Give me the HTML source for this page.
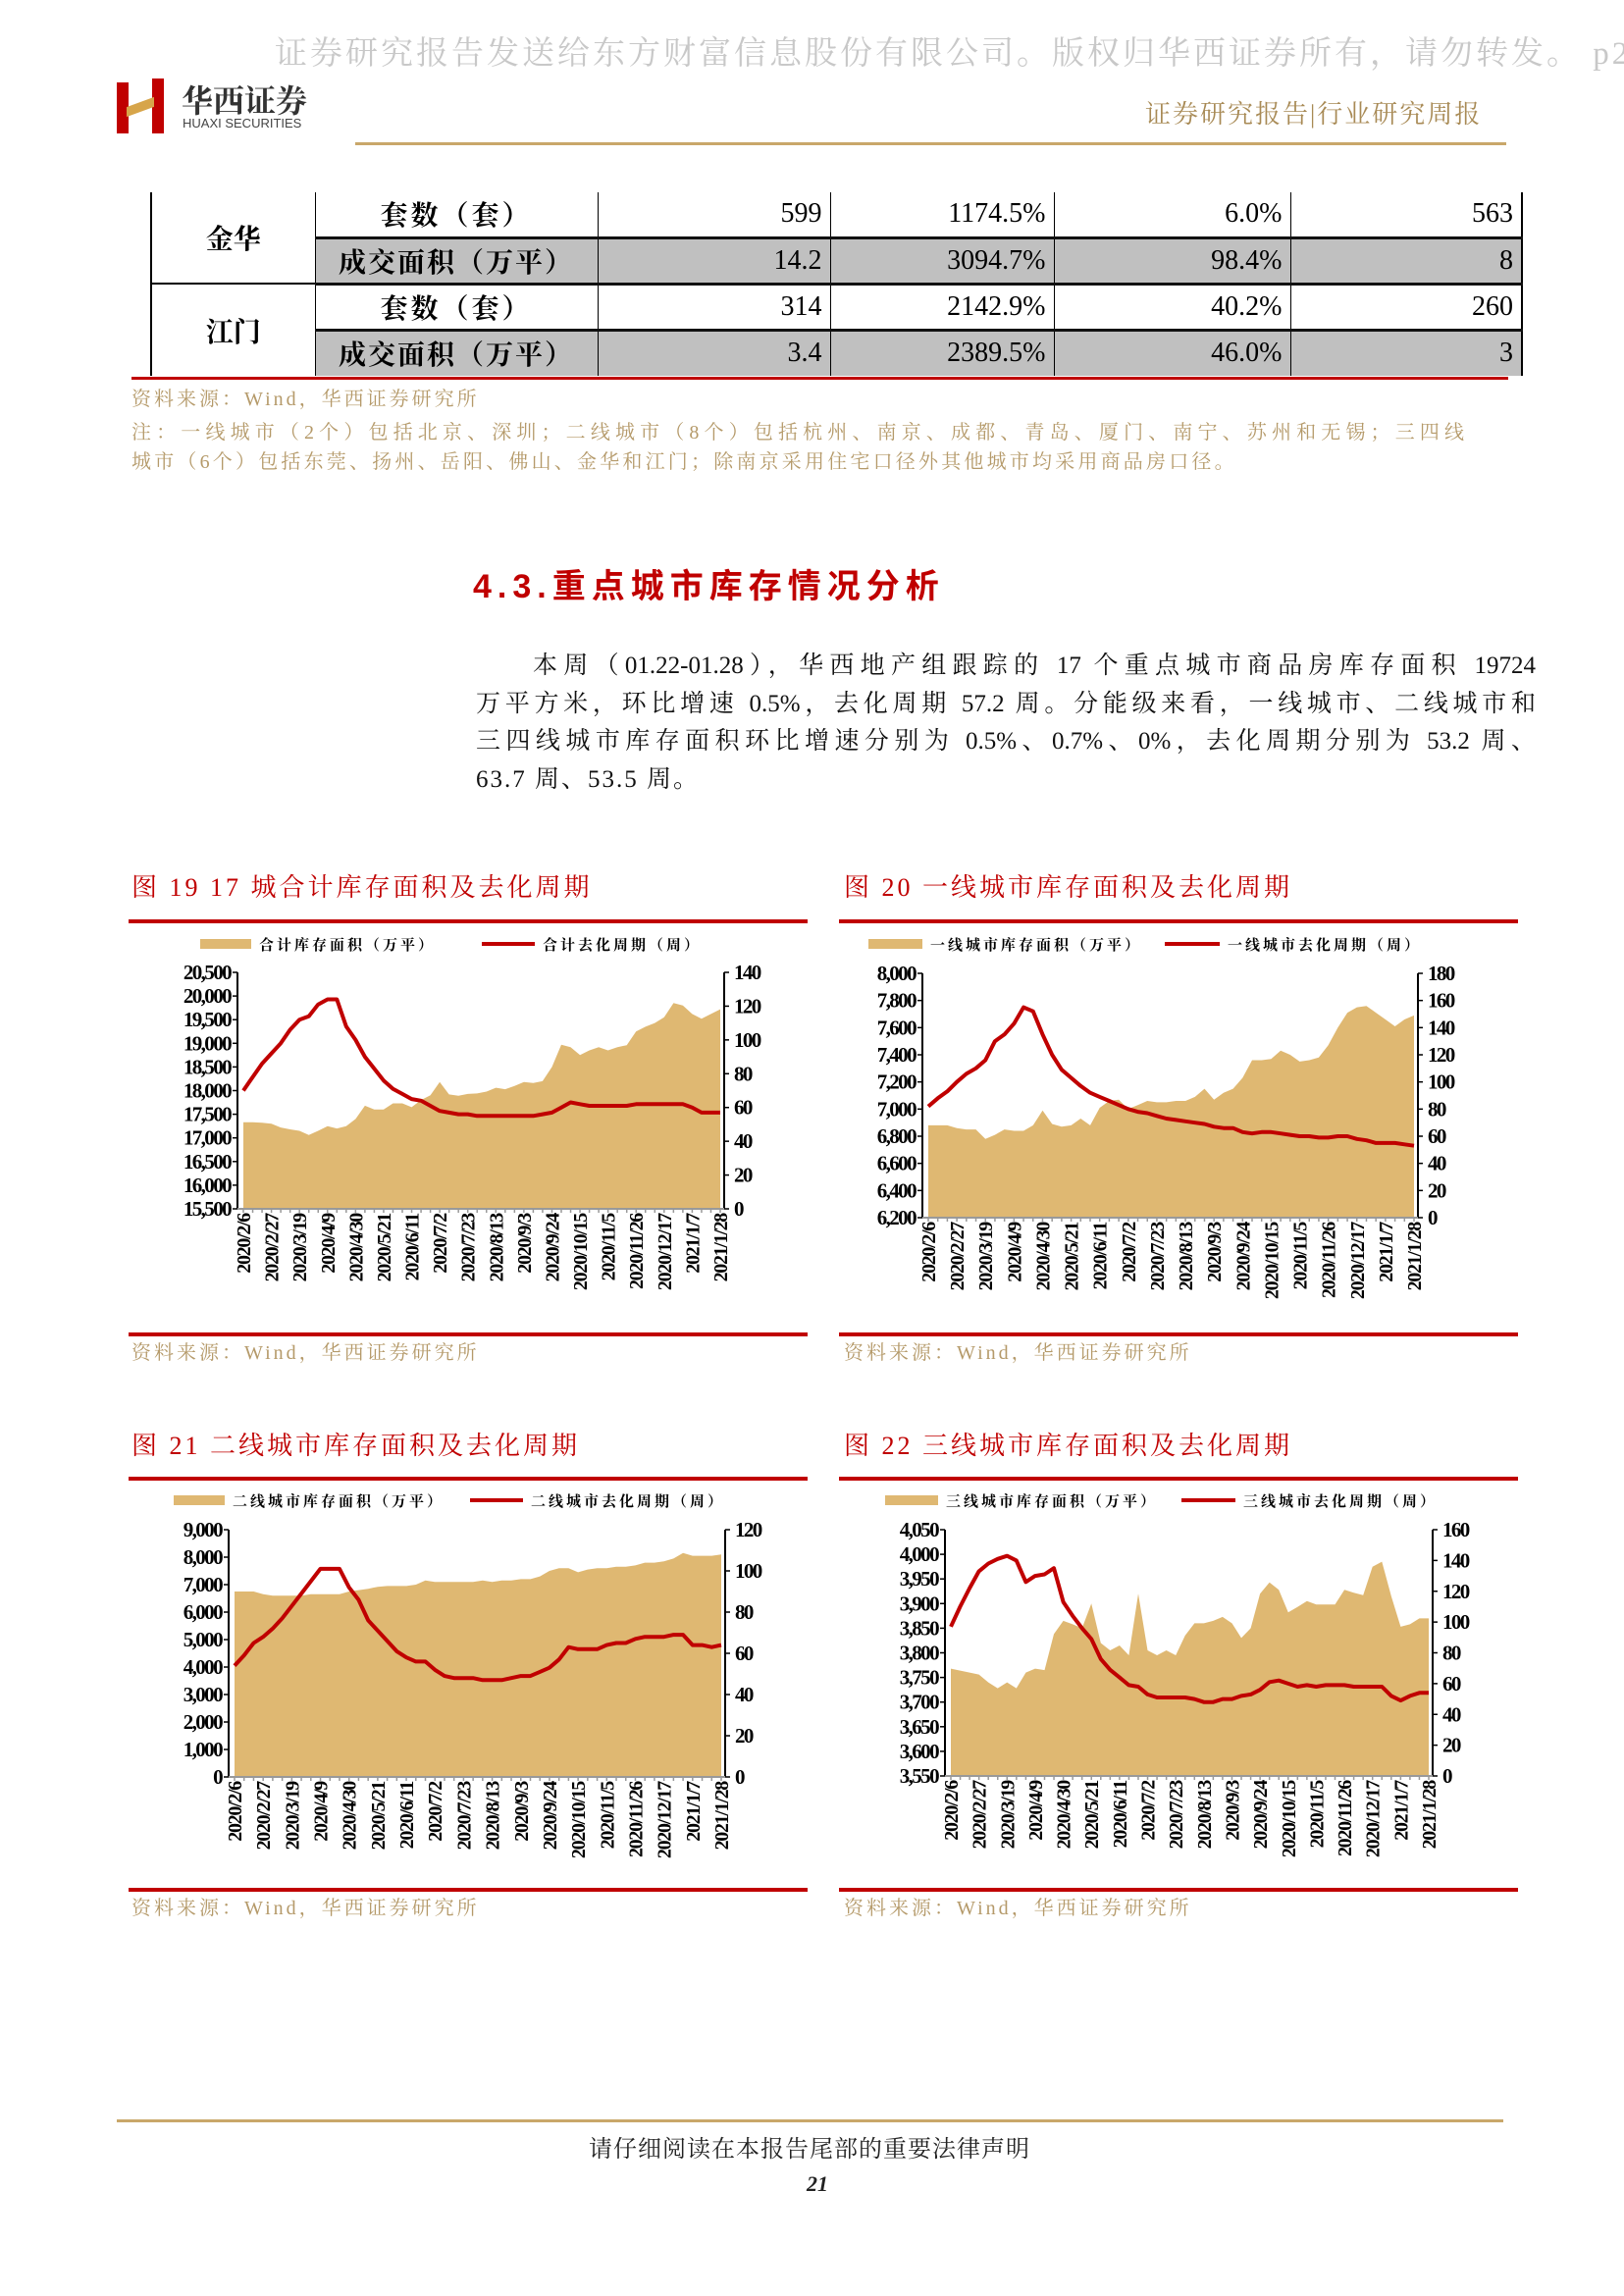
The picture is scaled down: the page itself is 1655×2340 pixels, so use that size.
<!DOCTYPE html>
<html><head><meta charset="utf-8">
<style>
body{margin:0;background:#fff;}
#page{position:relative;width:1655px;height:2340px;overflow:hidden;background:#fff;font-family:"Liberation Serif","Noto Serif CJK SC",serif;}
.abs{position:absolute;white-space:nowrap;}
.gold{color:#b59a6a;}
table{border-collapse:collapse;table-layout:fixed;}
td{overflow:hidden;}
.pl{display:block;text-align:justify;text-align-last:justify;}
</style></head>
<body>
<div id="page">
  <div class="abs" style="left:280px;top:28px;font-size:33px;color:#c8c8c8;letter-spacing:3px;font-family:'Liberation Serif','Noto Serif CJK SC',serif;">证券研究报告发送给东方财富信息股份有限公司。版权归华西证券所有，请勿转发。 p2</div>
  <div class="abs" style="left:119px;top:80px;width:52px;height:56px;">
    <div style="position:absolute;left:0;top:4px;width:12px;height:52px;background:#c00000;"></div>
    <div style="position:absolute;left:36px;top:0;width:12px;height:56px;background:#c00000;"></div>
    <div style="position:absolute;left:10px;top:24px;width:28px;height:10px;background:#d7a54a;transform:skewY(-20deg);"></div>
  </div>
  <div class="abs" style="left:185px;top:78px;font-size:32px;font-weight:bold;color:#333;font-family:'Noto Serif CJK SC',serif;">华西证券</div>
  <div class="abs" style="left:186px;top:118px;font-size:13px;color:#444;font-family:'Liberation Sans',sans-serif;">HUAXI SECURITIES</div>
  <div class="abs gold" style="left:1167px;top:96px;font-size:26px;letter-spacing:2px;color:#a88a55;">证券研究报告|行业研究周报</div>
  <div class="abs" style="left:362px;top:145px;width:1173px;height:3px;background:#c9a76a;"></div>

  <table class="abs" style="left:153px;top:196px;width:1397px;font-family:'Liberation Serif','Noto Serif CJK SC',serif;font-size:28px;">
    <colgroup><col style="width:167px"><col style="width:288px"><col style="width:237px"><col style="width:228px"><col style="width:241px"><col style="width:236px"></colgroup>
    <tr style="height:46px"><td rowspan="2" style="text-align:center;font-weight:bold;border-left:2px solid #000;border-right:1px solid #000;border-bottom:2px solid #000;">金华</td>
      <td style="text-align:center;font-weight:bold;border-right:1px solid #000;letter-spacing:3px;">套数（套）</td>
      <td style="text-align:right;padding-right:8px;border-right:1px solid #000;">599</td>
      <td style="text-align:right;padding-right:8px;border-right:1px solid #000;">1174.5%</td>
      <td style="text-align:right;padding-right:8px;border-right:1px solid #000;">6.0%</td>
      <td style="text-align:right;padding-right:8px;border-right:2px solid #000;">563</td></tr>
    <tr style="height:47px;background:#c0c0c0;"><td style="text-align:center;font-weight:bold;border-top:3px solid #111;border-right:1px solid #000;letter-spacing:2px;">成交面积（万平）</td>
      <td style="text-align:right;padding-right:8px;border-top:3px solid #111;border-right:1px solid #000;">14.2</td>
      <td style="text-align:right;padding-right:8px;border-top:3px solid #111;border-right:1px solid #000;">3094.7%</td>
      <td style="text-align:right;padding-right:8px;border-top:3px solid #111;border-right:1px solid #000;">98.4%</td>
      <td style="text-align:right;padding-right:8px;border-top:3px solid #111;border-right:2px solid #000;">8</td></tr>
    <tr style="height:47px"><td rowspan="2" style="text-align:center;font-weight:bold;border-left:2px solid #000;border-right:1px solid #000;background:#fff;">江门</td>
      <td style="text-align:center;font-weight:bold;border-top:3px solid #111;border-right:1px solid #000;letter-spacing:3px;">套数（套）</td>
      <td style="text-align:right;padding-right:8px;border-top:3px solid #111;border-right:1px solid #000;">314</td>
      <td style="text-align:right;padding-right:8px;border-top:3px solid #111;border-right:1px solid #000;">2142.9%</td>
      <td style="text-align:right;padding-right:8px;border-top:3px solid #111;border-right:1px solid #000;">40.2%</td>
      <td style="text-align:right;padding-right:8px;border-top:3px solid #111;border-right:2px solid #000;">260</td></tr>
    <tr style="height:47px;background:#c0c0c0;"><td style="text-align:center;font-weight:bold;border-top:3px solid #111;border-right:1px solid #000;letter-spacing:2px;">成交面积（万平）</td>
      <td style="text-align:right;padding-right:8px;border-top:3px solid #111;border-right:1px solid #000;">3.4</td>
      <td style="text-align:right;padding-right:8px;border-top:3px solid #111;border-right:1px solid #000;">2389.5%</td>
      <td style="text-align:right;padding-right:8px;border-top:3px solid #111;border-right:1px solid #000;">46.0%</td>
      <td style="text-align:right;padding-right:8px;border-top:3px solid #111;border-right:2px solid #000;">3</td></tr>
  </table>
  <div class="abs" style="left:134px;top:384px;width:1403px;height:3px;background:#c00000;"></div>
  <div class="abs gold" style="left:134px;top:390px;font-size:20px;letter-spacing:3px;">资料来源：Wind，华西证券研究所</div>
  <div class="abs gold" style="left:134px;top:426px;width:1358px;font-size:20px;line-height:30px;">
    <span class="pl">注：一线城市（2个）包括北京、深圳；二线城市（8个）包括杭州、南京、成都、青岛、厦门、南宁、苏州和无锡；三四线</span>
    <span style="letter-spacing:3.2px;">城市（6个）包括东莞、扬州、岳阳、佛山、金华和江门；除南京采用住宅口径外其他城市均采用商品房口径。</span></div>

  <div class="abs" style="left:482px;top:570px;font-size:34px;font-weight:bold;color:#c00000;letter-spacing:6px;font-family:'Liberation Sans','Noto Sans CJK SC',sans-serif;">4.3.重点城市库存情况分析</div>
  <div class="abs" style="left:485px;top:660px;width:1080px;font-size:25px;line-height:38.5px;white-space:normal;color:#111;">
    <span class="pl" style="padding-left:58px;">本周（01.22-01.28），华西地产组跟踪的 17 个重点城市商品房库存面积 19724</span>
    <span class="pl">万平方米，环比增速 0.5%，去化周期 57.2 周。分能级来看，一线城市、二线城市和</span>
    <span class="pl">三四线城市库存面积环比增速分别为 0.5%、0.7%、0%，去化周期分别为 53.2 周、</span>
    <span style="display:block;letter-spacing:2px;">63.7 周、53.5 周。</span></div>

  <div class="abs" style="left:134px;top:884px;font-size:26px;color:#c00000;letter-spacing:3px;">图 19 17 城合计库存面积及去化周期</div>
  <div class="abs" style="left:860px;top:884px;font-size:26px;color:#c00000;letter-spacing:3px;">图 20 一线城市库存面积及去化周期</div>
  <div class="abs" style="left:134px;top:1453px;font-size:26px;color:#c00000;letter-spacing:3px;">图 21 二线城市库存面积及去化周期</div>
  <div class="abs" style="left:860px;top:1453px;font-size:26px;color:#c00000;letter-spacing:3px;">图 22 三线城市库存面积及去化周期</div>

  <div class="abs gold" style="left:134px;top:1362px;font-size:20px;letter-spacing:3px;">资料来源：Wind，华西证券研究所</div>
  <div class="abs gold" style="left:860px;top:1362px;font-size:20px;letter-spacing:3px;">资料来源：Wind，华西证券研究所</div>
  <div class="abs gold" style="left:134px;top:1928px;font-size:20px;letter-spacing:3px;">资料来源：Wind，华西证券研究所</div>
  <div class="abs gold" style="left:860px;top:1928px;font-size:20px;letter-spacing:3px;">资料来源：Wind，华西证券研究所</div>

  <svg id="charts" class="abs" style="left:0;top:0" width="1655" height="2340"></svg>

  <div class="abs" style="left:119px;top:2160px;width:1413px;height:3px;background:#c9a76a;"></div>
  <div class="abs" style="left:600px;top:2170px;font-size:24px;color:#222;letter-spacing:1px;">请仔细阅读在本报告尾部的重要法律声明</div>
  <div class="abs" style="left:822px;top:2213px;font-size:22px;font-weight:bold;font-style:italic;color:#222;">21</div>
</div>
<script>
const dateLabels=["2020/2/6","2020/2/27","2020/3/19","2020/4/9","2020/4/30","2020/5/21","2020/6/11","2020/7/2","2020/7/23","2020/8/13","2020/9/3","2020/9/24","2020/10/15","2020/11/5","2020/11/26","2020/12/17","2021/1/7","2021/1/28"];
const c19Area=[17330,17330,17320,17300,17220,17180,17150,17060,17150,17250,17200,17250,17400,17680,17600,17600,17730,17730,17650,17800,17900,18180,17920,17890,17930,17940,17980,18060,18030,18100,18180,18160,18200,18500,18970,18920,18750,18850,18920,18850,18920,18960,19250,19350,19430,19550,19850,19800,19620,19520,19620,19720];
const c19Line=[70,78,86,92,98,106,112,114,121,124,124,108,100,90,83,76,71,68,65,64,61,58,57,56,56,55,55,55,55,55,55,55,56,57,60,63,62,61,61,61,61,61,62,62,62,62,62,62,60,57,57,57];
const c19LeftTicks=[15500,16000,16500,17000,17500,18000,18500,19000,19500,20000,20500];
const c19RightTicks=[0,20,40,60,80,100,120,140];
const c20Area=[6880,6880,6880,6860,6850,6850,6780,6810,6850,6840,6840,6880,6990,6890,6870,6880,6930,6880,7010,7060,7070,7000,7030,7060,7050,7050,7060,7060,7090,7150,7070,7120,7150,7230,7360,7360,7370,7430,7400,7350,7360,7380,7470,7600,7710,7750,7760,7710,7660,7610,7660,7690];
const c20Line=[82,88,93,100,106,110,116,130,135,143,155,152,135,120,109,103,97,92,89,86,83,80,78,77,75,73,72,71,70,69,67,66,66,63,62,63,63,62,61,60,60,59,59,60,60,58,57,55,55,55,54,53];
const c20LeftTicks=[6200,6400,6600,6800,7000,7200,7400,7600,7800,8000];
const c20RightTicks=[0,20,40,60,80,100,120,140,160,180];
const c21Area=[6750,6750,6750,6650,6600,6600,6600,6600,6650,6650,6650,6650,6750,6800,6850,6920,6950,6950,6950,7000,7150,7100,7100,7100,7100,7100,7150,7100,7150,7150,7200,7200,7300,7500,7600,7600,7450,7550,7600,7600,7650,7650,7700,7800,7800,7850,7950,8150,8050,8050,8050,8100];
const c21Line=[54,59,65,68,72,77,83,89,95,101,101,101,92,86,76,71,66,61,58,56,56,52,49,48,48,48,47,47,47,48,49,49,51,53,57,63,62,62,62,64,65,65,67,68,68,68,69,69,64,64,63,64];
const c21LeftTicks=[0,1000,2000,3000,4000,5000,6000,7000,8000,9000];
const c21RightTicks=[0,20,40,60,80,100,120];
const c22Area=[3768,3764,3760,3756,3740,3728,3740,3728,3760,3768,3765,3838,3865,3858,3850,3900,3820,3805,3815,3795,3920,3805,3795,3805,3795,3835,3860,3860,3865,3873,3860,3830,3850,3920,3943,3928,3882,3893,3905,3898,3898,3898,3928,3922,3917,3975,3985,3915,3853,3858,3870,3870];
const c22Line=[97,110,122,133,138,141,143,140,126,130,131,135,113,104,96,89,76,69,64,59,58,53,51,51,51,51,50,48,48,50,50,52,53,56,61,62,60,58,59,58,59,59,59,58,58,58,58,52,49,52,54,54];
const c22LeftTicks=[3550,3600,3650,3700,3750,3800,3850,3900,3950,4000,4050];
const c22RightTicks=[0,20,40,60,80,100,120,140,160];

const NS="http://www.w3.org/2000/svg";
const svg=document.getElementById('charts');
function mk(tag,attrs,parent){const e=document.createElementNS(NS,tag);for(const k in attrs)e.setAttribute(k,attrs[k]);(parent||svg).appendChild(e);return e;}
function fmt(v){return v.toLocaleString('en-US');}

function drawChart(id,g,area,line,lt,rt,legA,legL){
  const grp=mk('g',{});
  
  
  const lmin=lt[0],lmax=lt[lt.length-1],rmin=rt[0],rmax=rt[rt.length-1];
  const n=area.length;
  const x0=g.L+6,x1=g.R-4;
  const xs=i=>x0+(x1-x0)*i/(n-1);
  const yl=v=>g.bot-(v-lmin)/(lmax-lmin)*(g.bot-g.top);
  const yr=v=>g.bot-(v-rmin)/(rmax-rmin)*(g.bot-g.top);
  const r1=mk('rect',{x:g.fx,y:g.ruleTop-2,width:g.fw,height:4,fill:'#c00000'},grp);
  
  
  const r2=mk('rect',{x:g.fx,y:g.ruleBot-2,width:g.fw,height:4,fill:'#c00000'},grp);
  
  
  let d='M'+xs(0)+','+g.bot;
  area.forEach((v,i)=>{d+=' L'+xs(i).toFixed(1)+','+yl(v).toFixed(1);});
  d+=' L'+xs(n-1)+','+g.bot+' Z';
  const ap=mk('path',{d:d,fill:'#dfb872'},grp);
  
  
  const pts=line.map((v,i)=>xs(i).toFixed(1)+','+yr(v).toFixed(1)).join(' ');
  const lp=mk('polyline',{points:pts,fill:'none',stroke:'#c00000','stroke-width':4,'stroke-linejoin':'round'},grp);
  
  
  const la=mk('line',{x1:g.L,y1:g.top,x2:g.L,y2:g.bot,stroke:'#000','stroke-width':2},grp);
  
  
  const ra=mk('line',{x1:g.R,y1:g.top,x2:g.R,y2:g.bot,stroke:'#000','stroke-width':2},grp);
  
  
  const ba=mk('line',{x1:g.L,y1:g.bot,x2:g.R,y2:g.bot,stroke:'#999','stroke-width':2},grp);
  
  
  for(let i=0;i<n;i++){mk('line',{x1:xs(i),y1:g.bot,x2:xs(i),y2:g.bot+4,stroke:'#999','stroke-width':1.5},grp);}
  lt.forEach(v=>{
    mk('line',{x1:g.L-5,y1:yl(v),x2:g.L,y2:yl(v),stroke:'#000','stroke-width':1.5},grp);
    const t=mk('text',{x:g.L-7,y:yl(v)+7,'text-anchor':'end','font-size':21,'font-weight':'bold','font-family':'Liberation Serif,serif','letter-spacing':'-1.6'},grp);
    t.textContent=fmt(v);
    
    
  });
  rt.forEach(v=>{
    mk('line',{x1:g.R,y1:yr(v),x2:g.R+5,y2:yr(v),stroke:'#000','stroke-width':1.5},grp);
    const t=mk('text',{x:g.R+10,y:yr(v)+7,'font-size':21,'font-weight':'bold','font-family':'Liberation Serif,serif','letter-spacing':'-1.6'},grp);
    t.textContent=fmt(v);
    
    
  });
  dateLabels.forEach((s,k)=>{
    const x=xs(k*3)+7;
    const t=mk('text',{x:0,y:0,transform:'translate('+x+','+(g.bot+5)+') rotate(-90)','text-anchor':'end','font-size':20,'font-weight':'bold','font-family':'Liberation Serif,serif','letter-spacing':'-1.3'},grp);
    t.textContent=s;
    
    
  });
  const lr=mk('rect',{x:g.legA[0],y:g.legY-5,width:g.legA[1]-g.legA[0],height:10,fill:'#dfb872'},grp);
  
  
  const lt1=mk('text',{x:g.legA[1]+8,y:g.legY+6,'font-size':15,'font-weight':'bold','letter-spacing':'3','font-family':'Liberation Serif,Noto Serif CJK SC,serif'},grp);
  lt1.textContent=legA;
  
  
  const ll=mk('line',{x1:g.legL[0],y1:g.legY,x2:g.legL[1],y2:g.legY,stroke:'#c00000','stroke-width':4},grp);
  
  
  const lt2=mk('text',{x:g.legL[1]+8,y:g.legY+6,'font-size':15,'font-weight':'bold','letter-spacing':'3','font-family':'Liberation Serif,Noto Serif CJK SC,serif'},grp);
  lt2.textContent=legL;
  
  
}
drawChart('chart19-total-inventory',{L:242,R:738,top:991,bot:1232,fx:131,fw:692,ruleTop:939,ruleBot:1360,legY:962,legA:[204,256],legL:[491,545]},c19Area,c19Line,c19LeftTicks,c19RightTicks,'合计库存面积（万平）','合计去化周期（周）');
drawChart('chart20-tier1-inventory',{L:940,R:1445,top:992,bot:1241,fx:855,fw:692,ruleTop:939,ruleBot:1360,legY:962,legA:[885,940],legL:[1187,1243]},c20Area,c20Line,c20LeftTicks,c20RightTicks,'一线城市库存面积（万平）','一线城市去化周期（周）');
drawChart('chart21-tier2-inventory',{L:233,R:739,top:1559,bot:1811,fx:131,fw:692,ruleTop:1507,ruleBot:1926,legY:1529,legA:[177,229],legL:[479,533]},c21Area,c21Line,c21LeftTicks,c21RightTicks,'二线城市库存面积（万平）','二线城市去化周期（周）');
drawChart('chart22-tier3-inventory',{L:963,R:1460,top:1559,bot:1810,fx:855,fw:692,ruleTop:1507,ruleBot:1926,legY:1529,legA:[902,956],legL:[1204,1259]},c22Area,c22Line,c22LeftTicks,c22RightTicks,'三线城市库存面积（万平）','三线城市去化周期（周）');
</script>
</body></html>
